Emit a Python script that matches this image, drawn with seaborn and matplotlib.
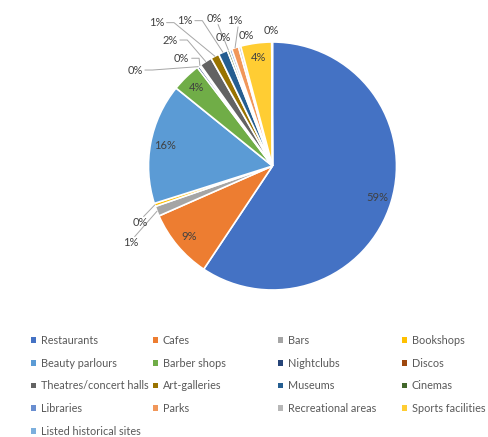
import matplotlib
matplotlib.use("Agg")
import matplotlib.pyplot as plt
import seaborn as sns
import numpy as np
from matplotlib.patches import Patch

categories = ["Restaurants", "Cafes", "Bars", "Bookshops",
              "Beauty parlours", "Barber shops", "Nightclubs", "Discos",
              "Theatres/concert halls", "Art-galleries", "Museums", "Cinemas",
              "Libraries", "Parks", "Recreational areas", "Sports facilities",
              "Listed historical sites"]
shares = [59.0, 9.0, 1.3, 0.4, 15.6, 3.8, 0.3, 0.2, 1.6, 1.1, 1.2, 0.3,
          0.3, 0.9, 0.3, 4.0, 0.1]
colors = ["#4472C4", "#ED7D31", "#A5A5A5", "#FFC000", "#5B9BD5", "#70AD47",
          "#264478", "#9E480E", "#636363", "#997300", "#255E91", "#43682B",
          "#698ED0", "#F1975A", "#B7B7B7", "#FFCD33", "#7CAFDD"]

sns.set_theme(style="white")
plt.rcParams['font.family'] = ['Lato', 'DejaVu Sans']

W, H = 489, 437
fig = plt.figure(figsize=(W / 100, H / 100), dpi=100)
fig.patch.set_facecolor("white")

cx, cy, r = 272.5, 166.0, 124.0
ax = fig.add_axes([(cx - r) / W, (H - cy - r) / H, 2 * r / W, 2 * r / H])
wedges, _ = ax.pie(shares, colors=colors, startangle=90, counterclock=False,
                   wedgeprops=dict(edgecolor="white", linewidth=1.2))
ax.set_xlim(-1, 1)
ax.set_ylim(-1, 1)
ax.set_aspect("equal")
ax.axis("off")

# positions (in radius units) of labels Excel placed outside the pie
outside_pos = {
    2: (-1.141, -0.619), 3: (-1.069, -0.457), 6: (-1.109, 0.774),
    7: (-0.732, 0.869), 8: (-0.827, 1.016), 9: (-0.934, 1.156),
    10: (-0.706, 1.172), 11: (-0.469, 1.191), 12: (-0.397, 1.038),
    13: (-0.308, 1.172), 14: (-0.214, 1.056), 16: (-0.006, 1.089),
}
lab_color = "#404040"
line_color = "#A6A6A6"
total = sum(shares)
for i, w in enumerate(wedges):
    pct = shares[i] / total * 100
    txt = f"{pct:.0f}%"
    th = np.deg2rad((w.theta1 + w.theta2) / 2)
    axx, axy = np.cos(th), np.sin(th)
    if i in outside_pos:
        lx, ly = outside_pos[i]
        ax.text(lx, ly, txt, ha="center", va="center", fontsize=8,
                color=lab_color, clip_on=False)
        dx, dy = axx - lx, axy - ly
        if np.hypot(dx, dy) > 0.12:
            if abs(dx) >= 0.9 * abs(dy):
                sx = lx + np.sign(dx) * 0.08
                ex = sx + np.sign(dx) * 0.06
                xs, ys = [sx, ex, axx], [ly, ly, axy]
            else:
                sx = lx + 0.03
                sy = ly + np.sign(dy) * 0.05
                xs, ys = [sx, axx], [sy, axy]
            ax.plot(xs, ys, color=line_color, lw=0.7, clip_on=False)
    else:
        ax.text(0.88 * axx, 0.88 * axy, txt, ha="center", va="center",
                fontsize=8, color=lab_color)

# legend: 4 equal-width columns, row-major order
col_x = [31, 153, 278, 402]
top_y = 335
for c in range(4):
    idx = list(range(c, len(categories), 4))
    handles = [Patch(facecolor=colors[k], edgecolor="none") for k in idx]
    labels = [categories[k] for k in idx]
    fig.legend(handles, labels, loc="upper left",
               bbox_to_anchor=(col_x[c] / W, 1 - top_y / H),
               frameon=False, fontsize=7.8, handlelength=0.42,
               handleheight=0.42, handletextpad=0.5, labelspacing=1.08,
               borderpad=0, borderaxespad=0, labelcolor="#595959")

fig.savefig("out.png", dpi=100, facecolor="white")
